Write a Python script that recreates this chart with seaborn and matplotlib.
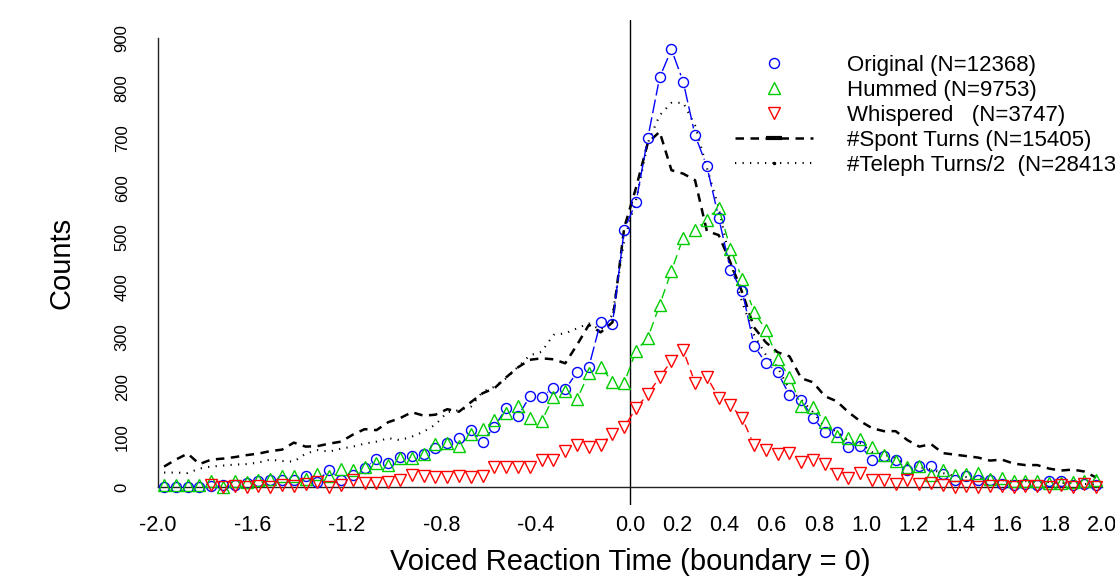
import numpy as np
import pandas as pd
import matplotlib
matplotlib.use("Agg")
import matplotlib.pyplot as plt
import seaborn as sns
from matplotlib.collections import LineCollection
from matplotlib.lines import Line2D

# bin centres of the reaction-time histograms (0.05 s bins)
bins = np.round(np.arange(-1.975, 2.0, 0.05), 3)

original = [0, 0, 0, 0, 2, 5, 5, 9, 12, 14,
            14, 14, 23, 11, 35, 14, 24, 38, 56, 49,
            61, 63, 66, 79, 88, 99, 114, 91, 121, 158,
            142, 182, 181, 199, 196, 230, 241, 331, 327, 516,
            571, 700, 821, 877, 812, 705, 643, 540, 435, 393,
            283, 249, 230, 184, 174, 139, 110, 110, 80, 83,
            55, 62, 55, 35, 43, 43, 26, 14, 22, 14,
            14, 7, 5, 7, 5, 13, 13, 5, 7, 4]
hummed = [5, 5, 5, 5, 12, 0, 12, 10, 14, 16,
          22, 22, 17, 27, 22, 37, 35, 41, 49, 44,
          59, 59, 67, 86, 89, 82, 107, 116, 134, 148,
          163, 138, 132, 181, 193, 176, 228, 241, 211, 209,
          273, 299, 365, 433, 500, 515, 536, 560, 478, 417,
          351, 315, 256, 221, 162, 161, 131, 102, 98, 96,
          81, 64, 53, 41, 43, 25, 35, 24, 27, 29,
          17, 19, 13, 12, 12, 9, 9, 10, 13, 15]
whispered = [np.nan, np.nan, np.nan, np.nan, 4, 0, 3, 0, 3, 1,
             4, 3, 7, 11, 1, 4, 15, 9, 8, 11,
             14, 24, 22, 20, 20, 22, 21, 22, 41, 40,
             40, 40, 54, 55, 73, 84, 80, 84, 107, 120,
             158, 186, 220, 253, 274, 209, 221, 179, 164, 138,
             84, 75, 67, 69, 51, 54, 47, 26, 19, 29,
             15, 15, 6, 14, 7, 8, 4, 1, 3, 1,
             3, 3, 1, 3, 3, 1, 4, 1, 7, 1]
spont = [41, 55, 67, 46, 55, 57, 60, 64, 67, 72,
         75, 89, 81, 82, 87, 91, 105, 116, 114, 130,
         138, 150, 143, 145, 156, 151, 170, 188, 198, 220,
         240, 255, 258, 256, 248, 285, 325, 310, 330, 520,
         600, 690, 712, 635, 628, 615, 513, 505, 450, 390,
         320, 290, 270, 262, 218, 210, 182, 172, 150, 132,
         118, 112, 112, 94, 81, 86, 68, 65, 62, 59,
         53, 55, 47, 44, 44, 37, 33, 35, 31, 19]
teleph_half = [29, 29, 28, 37, 41, 43, 45, 46, 49, 55,
               52, 51, 67, 74, 71, 77, 81, 87, 91, 98,
               94, 101, 111, 125, 150, 154, 161, 191, 201, 218,
               241, 264, 271, 305, 308, 318, 328, 315, 345, 495,
               575, 690, 745, 770, 770, 725, 640, 560, 450, 370,
               305, 265, 240, 195, 175, 150, 120, 112, 92, 88,
               70, 65, 58, 45, 40, 35, 28, 22, 20, 18,
               15, 14, 12, 12, 10, 10, 8, 8, 6, 5]

labels = ["Original (N=12368)", "Hummed (N=9753)", "Whispered   (N=3747)",
          "#Spont Turns (N=15405)", "#Teleph Turns/2  (N=28413)"]

xticks = np.round(np.arange(-2.0, 2.01, 0.2), 1)
xticklabels = ["-2.0", "", "-1.6", "", "-1.2", "", "-0.8", "", "-0.4", "",
               "0.0", "0.2", "0.4", "0.6", "0.8", "1.0", "1.2", "1.4", "1.6", "1.8", "2.0"]
yticks = [0, 100, 200, 300, 400, 500, 600, 700, 800, 900]

sns.set_style("white")
plt.rcParams["font.family"] = ["Liberation Sans", "DejaVu Sans"]
plt.rcParams["text.color"] = "black"
plt.rcParams["axes.labelcolor"] = "black"
plt.rcParams["xtick.color"] = "black"
plt.rcParams["ytick.color"] = "black"

df = pd.DataFrame({"t": bins, "orig": original, "hum": hummed, "whis": whispered,
                   "spont": spont, "tel": teleph_half})

fig = plt.figure(figsize=(11.15, 5.85), dpi=100)
# plot region is wider than the picture: the right side gets cut, as in the original
ax = fig.add_axes([120.4 / 1115, 80 / 585, 1019.5 / 1115, 485 / 585])
ax.set_xlim(-2.16, 2.16)
ax.set_ylim(-36, 936)


def gapped_segments(ax, x, y, gap_px):
    # R type="b": line pieces between points, with a gap around each point
    pts = ax.transData.transform(np.column_stack([x, y]))
    inv = ax.transData.inverted()
    segs = []
    for p0, p1 in zip(pts[:-1], pts[1:]):
        if np.isnan(p0).any() or np.isnan(p1).any():
            continue
        d = p1 - p0
        length = np.hypot(d[0], d[1])
        if length <= 2 * gap_px:
            continue
        u = d / length
        segs.append(inv.transform([p0 + u * gap_px, p1 - u * gap_px]))
    return segs


# black reference curves
sns.lineplot(data=df, x="t", y="spont", ax=ax, color="black", lw=1.8,
             linestyle=(0, (3.4, 2.6)), zorder=2)
sns.lineplot(data=df, x="t", y="tel", ax=ax, color="black", lw=1.5,
             linestyle=(0, (0.6, 3.0)), zorder=2)

series = [("orig", "blue", "o", 7.2, (0, (10, 3))),
          ("hum", "#00CD00", "^", 9.2, (0, (7, 4))),
          ("whis", "#FF0000", "v", 9.2, (0, (6, 4)))]
for col, color, mk, ms, ls in series:
    segs = gapped_segments(ax, df["t"].values, df[col].values, 7)
    ax.add_collection(LineCollection(segs, colors=color, linewidths=1.0,
                                     linestyles=[ls], zorder=3))
    sns.lineplot(data=df, x="t", y=col, ax=ax, linestyle="none", marker=mk,
                 markersize=ms, markerfacecolor="none", markeredgecolor=color,
                 markeredgewidth=1.0, color=color, zorder=4)

ax.axvline(0, color="black", lw=1.0, zorder=1)

# axes in R style: no box, axes drawn at x=-2 and y=0
sns.despine(ax=ax, top=True, right=True)
ax.spines["left"].set_position(("data", -2.0))
ax.spines["bottom"].set_position(("data", 0))
ax.spines["left"].set_bounds(0, 900)
ax.spines["bottom"].set_bounds(-2.0, 2.0)
for s in ("left", "bottom"):
    ax.spines[s].set_color("#222222")
    ax.spines[s].set_linewidth(1.0)

ax.set_xticks(xticks)
ax.set_xticklabels(xticklabels)
ax.set_yticks(yticks)
ax.set_yticklabels([str(v) for v in yticks], rotation=90, va="center")
ax.tick_params(axis="x", length=8, width=1.0, color="#222222", pad=12, labelsize=15.6)
ax.tick_params(axis="y", length=7.5, width=1.0, color="#222222", pad=13, labelsize=12)

ax.set_xlabel("Voiced Reaction Time (boundary = 0)", fontsize=21)
ax.set_ylabel("Counts", fontsize=21)
ax.xaxis.set_label_coords(0.5, (505 - 562) / 485)
ax.xaxis.label.set_va("center")
ax.yaxis.set_label_coords((62 - 120.4) / 1019.5, 0.5)
ax.yaxis.label.set_va("center")

handles = [Line2D([], [], linestyle="none", marker="o", markersize=7.2, markerfacecolor="none",
                  markeredgecolor="blue", markeredgewidth=1.0),
           Line2D([], [], linestyle="none", marker="^", markersize=9.2, markerfacecolor="none",
                  markeredgecolor="#00CD00", markeredgewidth=1.0),
           Line2D([], [], linestyle="none", marker="v", markersize=9.2, markerfacecolor="none",
                  markeredgecolor="#FF0000", markeredgewidth=1.0),
           Line2D([], [], color="black", lw=1.8, linestyle=(0, (3.4, 2.6)),
                  marker="_", markersize=12, markeredgewidth=3),
           Line2D([], [], color="black", lw=1.5, linestyle=(0, (0.6, 3.0)),
                  marker=".", markersize=3)]
ax.legend(handles, labels, loc="upper left", bbox_to_anchor=(735 / 1115, 1 - 55 / 585),
          bbox_transform=fig.transFigure, frameon=False, fontsize=16,
          handlelength=3.5, handletextpad=1.55, labelspacing=0.18,
          borderpad=0, borderaxespad=0)

fig.savefig("out.png", dpi=100)
